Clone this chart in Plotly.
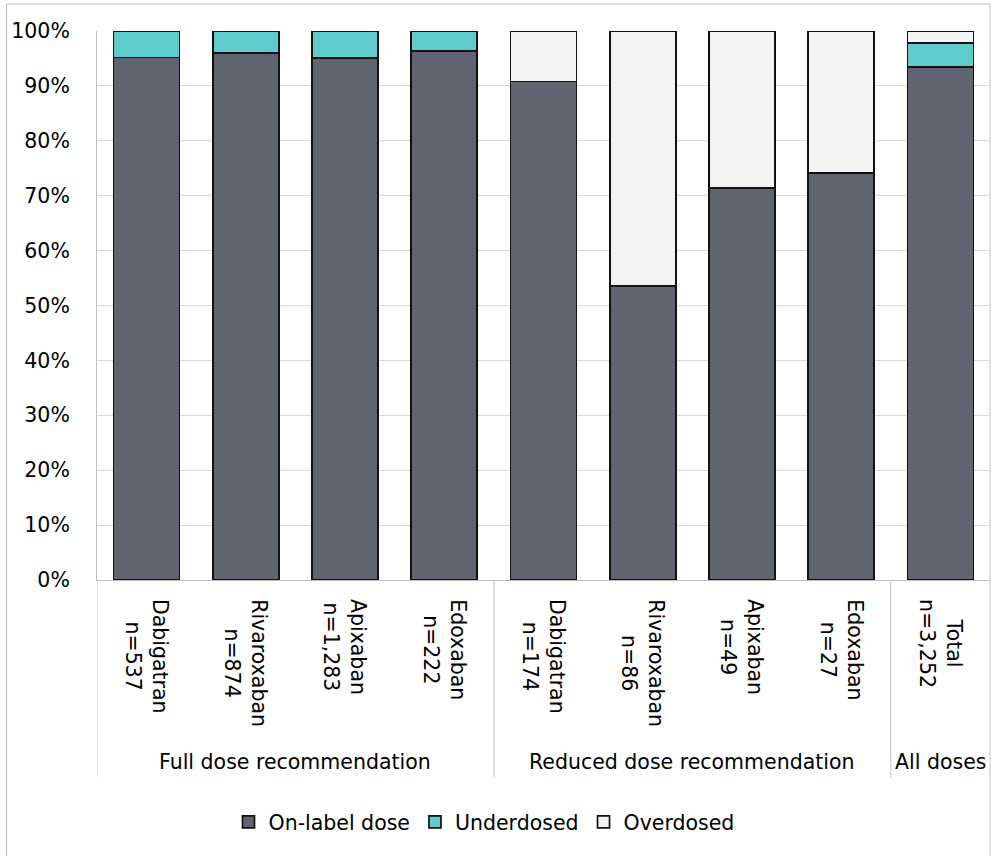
import plotly.graph_objects as go

# Dose appropriateness by DOAC and dose recommendation (% of patients)
drugs = ["Dabigatran", "Rivaroxaban", "Apixaban", "Edoxaban",
         "Dabigatran", "Rivaroxaban", "Apixaban", "Edoxaban", "Total"]
n_labels = ["n=537", "n=874", "n=1,283", "n=222",
            "n=174", "n=86", "n=49", "n=27", "n=3,252"]
groups = ["Full dose recommendation", "Reduced dose recommendation", "All doses"]
group_sizes = [4, 4, 1]

on_label = [95.2, 96.0, 95.1, 96.4, 90.8, 53.5, 71.4, 74.1, 93.5]
underdosed = [4.8, 4.0, 4.9, 3.6, 0, 0, 0, 0, 4.3]
overdosed = [0, 0, 0, 0, 9.2, 46.5, 28.6, 25.9, 2.2]

series = [
    ("On-label dose", on_label, "#5f6470"),
    ("Underdosed", underdosed, "#5ecbcd"),
    ("Overdosed", overdosed, "#f2f3f2"),
]

W, H = 991, 856
L, R, T, B = 97, 1, 31, 276
plot_h = H - T - B
FONT = "DejaVu Sans"
FS = 20.5

x = list(range(len(drugs)))

fig = go.Figure()
for name, vals, color in series:
    fig.add_trace(go.Bar(
        x=x, y=[v if v else None for v in vals], name=name,
        cliponaxis=False,
        marker=dict(color=color, line=dict(color="#111111", width=1.7)),
    ))


def py(pixel_y):
    """Convert a page pixel row to paper y."""
    return (H - B - pixel_y) / plot_h


annotations = []
# rotated category labels
for i, (d, n) in enumerate(zip(drugs, n_labels)):
    annotations.append(dict(
        x=i, xref="x", y=py(597), yref="paper",
        text=f"{d}<br>{n}", textangle=90, showarrow=False,
        xanchor="center", yanchor="top", align="center",
        font=dict(family=FONT, size=FS, color="#000000"),
    ))

# group labels and dividers
shapes = []
start = 0
bounds = [-0.5]
for g, size in zip(groups, group_sizes):
    center = start + (size - 1) / 2
    annotations.append(dict(
        x=center, xref="x", y=py(762), yref="paper",
        text=g, showarrow=False, xanchor="center", yanchor="middle",
        font=dict(family=FONT, size=FS, color="#000000"),
    ))
    start += size
    bounds.append(start - 0.5)

for b in bounds[:-1]:
    shapes.append(dict(
        type="line", xref="x", yref="paper", x0=b, x1=b,
        y0=0, y1=py(777), line=dict(color="#bfbfbf", width=1),
    ))

# outer chart frame
shapes.append(dict(
    type="rect", xref="paper", yref="paper",
    x0=(6.5 - L) / (W - L - R), x1=1.0,
    y0=py(H + 10), y1=py(4),
    line=dict(color="#c0c0c0", width=1), layer="below",
))

fig.update_layout(
    width=W, height=H, autosize=False,
    margin=dict(l=L, r=R, t=T, b=B, pad=0, autoexpand=False),
    barmode="stack", bargap=0.335,
    plot_bgcolor="white", paper_bgcolor="white",
    font=dict(family=FONT, size=FS, color="#000000"),
    xaxis=dict(
        range=[-0.5, len(drugs) - 0.5], showticklabels=False,
        showgrid=False, zeroline=False, ticks="", automargin=False,
        showline=True, linecolor="#bfbfbf", linewidth=1,
    ),
    yaxis=dict(
        range=[0, 100], dtick=10, ticksuffix="%", automargin=False,
        showgrid=True, gridcolor="#d9d9d9", gridwidth=1,
        zeroline=False, ticks="", ticklabelstandoff=22,
        showline=True, linecolor="#bfbfbf", linewidth=1,
        tickfont=dict(family=FONT, size=FS, color="#000000"),
    ),
    legend=dict(
        orientation="h", traceorder="normal",
        xref="container", x=484 / W, xanchor="center",
        yref="container", y=(H - 822) / H, yanchor="middle",
        font=dict(family=FONT, size=FS, color="#000000"),
        itemclick=False, itemdoubleclick=False,
    ),
    annotations=annotations,
    shapes=shapes,
)

fig.write_html("out.html")
